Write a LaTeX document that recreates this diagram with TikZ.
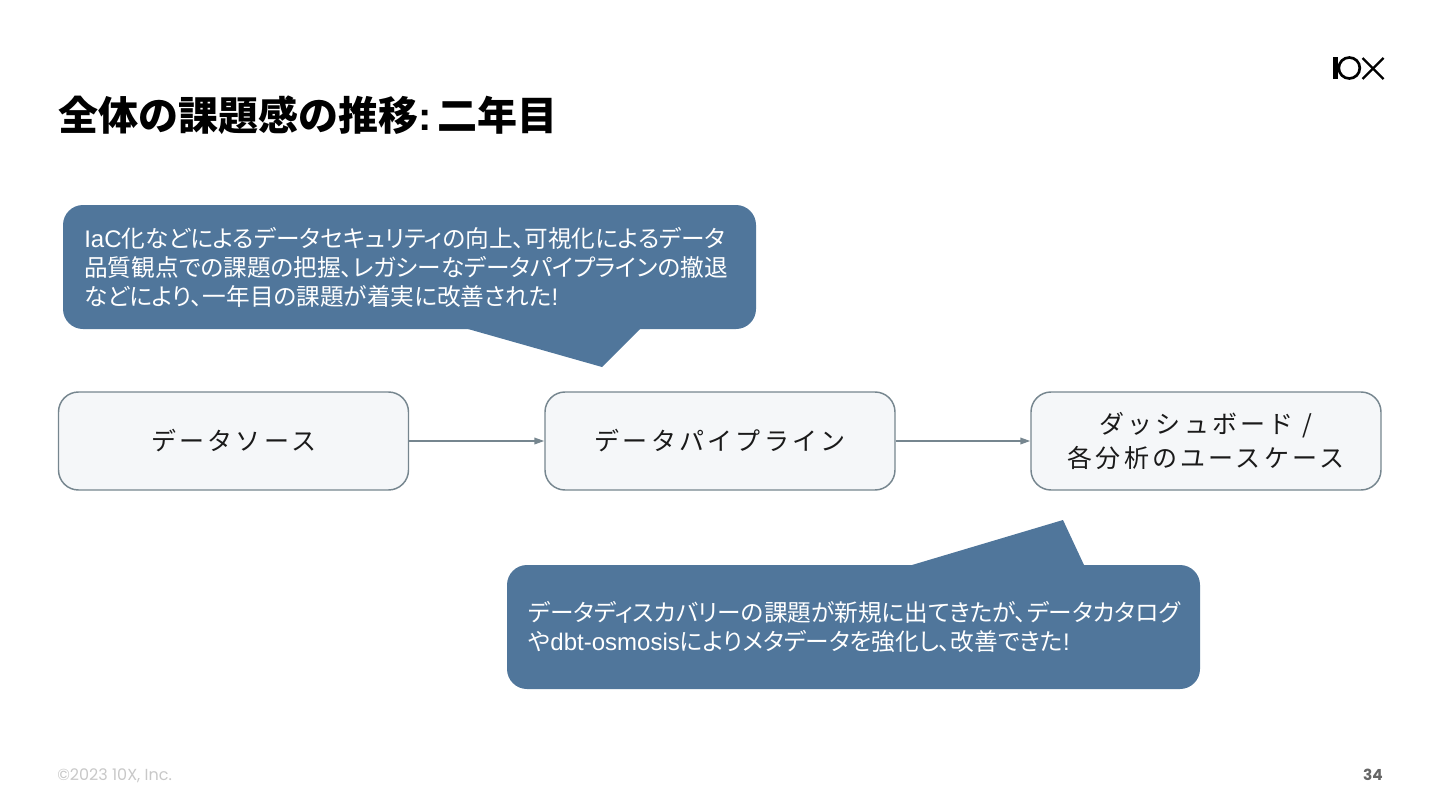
\documentclass[tikz,border=0pt]{standalone}
\usepackage{fontspec}
\setmainfont{Liberation Sans}
\newfontfamily\jp{Noto Sans CJK JP}
\newfontfamily\jpnote[Scale=0.985,RawFeature=+palt]{Noto Sans CJK JP}
\newfontfamily\jpbox[LetterSpace=13]{Noto Sans CJK JP}
\newfontfamily\foot{Poppins}
\definecolor{callout}{HTML}{50769B}
\definecolor{boxfill}{HTML}{F5F7F9}
\definecolor{boxline}{HTML}{76868F}
\definecolor{ink}{HTML}{1A1A1A}
\definecolor{footgray}{HTML}{C8C8C8}
\definecolor{pagegray}{HTML}{666666}
\usetikzlibrary{arrows.meta}
\tikzset{
  stagebox/.style={draw=boxline,fill=boxfill,line width=1.1pt,rounded corners=15pt,minimum width=262.5pt,minimum height=73.5pt,inner sep=0pt,align=center,text=ink,font=\fontsize{18.75}{25.5}\selectfont\jpbox},
  flow/.style={draw=boxline,line width=1.1pt,-{Triangle[length=7.5pt,width=5pt]}},
  calloutbody/.style={fill=callout,draw=none,rounded corners=15pt},
  callouttail/.style={fill=callout,draw=none},
  callouttext/.style={anchor=west,align=left,text=white,inner sep=0pt,font=\fontsize{18}{21.75}\selectfont},
  logoline/.style={draw=black,line width=1.7pt}
}
\begin{document}
\begin{tikzpicture}[x=0.75pt,y=-0.75pt]
\useasboundingbox (0,0) rectangle (1440,810);
\node[anchor=west,inner sep=0pt,font=\fontsize{30}{36}\selectfont\bfseries] (title) at (58,115) {{\jp 全体の課題感の推移}:\kern-4pt\ {\jp 二年目}};
% logo
\fill (1332.5,57) rectangle (1338,79);
\draw[logoline,line width=2pt] (1349.3,68) circle[radius=10.5];
\draw[logoline] (1362.5,58) -- (1383.5,79);
\draw[logoline] (1383.5,58) -- (1362.5,79);
% callout 1
\path[calloutbody] (63,205) rectangle (756,329);
\path[callouttail] (640,328) -- (640,329) -- (602,367) -- (468,329) -- (468,328) -- cycle;
\node[callouttext] (noteA) at (84,267.5) {IaC{\jpnote 化などによるデータセキュリティの向上、可視化によるデータ}\\{\jpnote 品質観点での課題の把握、レガシーなデータパイプラインの撤退}\\{\jpnote などにより、一年目の課題が着実に改善された}!};
% boxes
\node[stagebox] (src) at (233.5,441) {データソース};
\node[stagebox] (pipe) at (720,441) {データパイプライン};
\node[stagebox] (use) at (1206,441) {ダッシュボード /\\各分析のユースケース};
\draw[flow] (src) -- (pipe);
\draw[flow] (pipe) -- (use);
% callout 2
\path[calloutbody] (507,565) rectangle (1200,689);
\path[callouttail] (912,566) -- (912,565) -- (1063,520) -- (1084,565) -- (1084,566) -- cycle;
\node[callouttext] (noteB) at (528,627) {{\jpnote データディスカバリーの課題が新規に出てきたが、データカタログ}\\{\jpnote や}dbt-osmosis{\jpnote によりメタデータを強化し、改善できた}!};
% footer
\node[anchor=west,inner sep=0pt,text=footgray,font=\fontsize{12}{14}\selectfont\foot] (copy) at (57,775.5) {©2023 10X, Inc.};
\node[anchor=east,inner sep=0pt,text=pagegray,font=\fontsize{11.5}{14}\selectfont\foot\bfseries] (page) at (1383,775) {34};
\end{tikzpicture}
\end{document}
